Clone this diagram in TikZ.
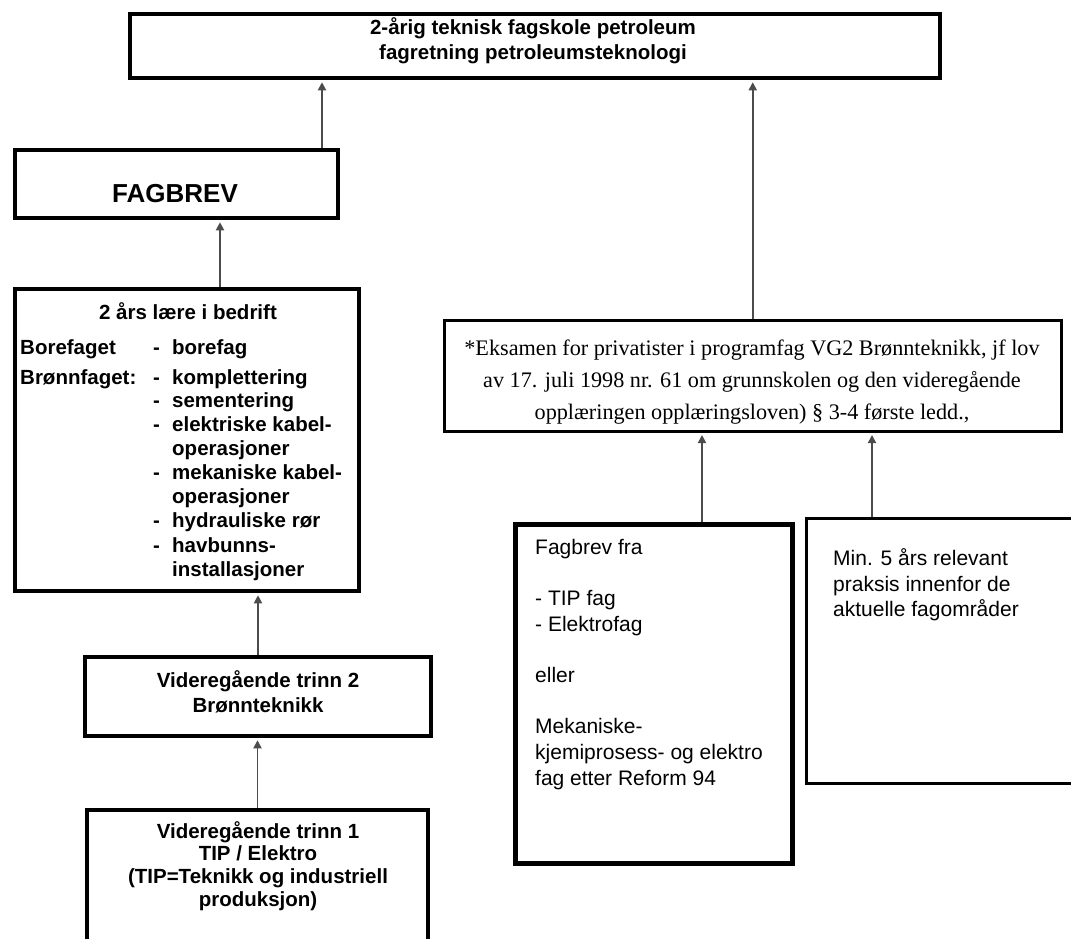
\documentclass[tikz,border=0pt]{standalone}
\usepackage{fontspec}
\setmainfont{Liberation Sans}
\newfontfamily\tnr{Liberation Serif}
\usetikzlibrary{arrows.meta,calc}
\newcommand{\dashitem}[1]{\makebox[19pt][l]{-}#1}
\begin{document}
\begin{tikzpicture}[x=1pt,y=-1pt,
  box/.style={draw=black,line width=4.5pt,inner sep=0pt},
  thinbox/.style={draw=black,line width=3pt,inner sep=0pt},
  arr/.style={draw=black!70,line width=1.8pt,shorten >=2pt,-{Triangle[length=8pt,width=8pt]}},
  bt/.style={font=\fontsize{20.5}{25}\selectfont\bfseries,inner sep=0pt},
  rt/.style={font=\fontsize{21}{25}\selectfont,inner sep=0pt},
  st/.style={font=\fontsize{22.2}{32}\selectfont\tnr,inner sep=0pt},
]
\useasboundingbox (0,0) rectangle (1071,938);
\clip (0,0) rectangle (1071,938);

% boxes
\node[box,minimum width=810pt,minimum height=64pt] (top) at (535,46) {};
\node[box,minimum width=323pt,minimum height=68pt] (fag) at (176.5,184) {};
\node[box,minimum width=344pt,minimum height=302pt] (laere) at (187,440) {};
\node[box,minimum width=346pt,minimum height=79pt] (vg2) at (258,696.5) {};
\node[box,minimum width=341pt,minimum height=170pt] (vg1) at (257.5,895) {};
\node[thinbox,minimum width=616.5pt,minimum height=111pt] (eks) at (752.75,376) {};
\node[box,line width=5pt,minimum width=277pt,minimum height=339pt] (fb) at (654,694) {};
\node[thinbox,minimum width=293.5pt,minimum height=265pt] (min5) at (953.25,651) {};

% connectors
\coordinate (a1) at (322,0);
\coordinate (a2) at (220,0);
\coordinate (a3) at (702,0);
\coordinate (a4) at (872,0);
\draw[arr] (fag.north -| a1) -- (top.south -| a1);
\draw[arr] (laere.north -| a2) -- (fag.south -| a2);
\draw[arr] (vg2.north) -- (vg2.north |- laere.south);
\draw[arr] (vg1.north) -- (vg1.north |- vg2.south);
\draw[arr] (eks.north) -- (eks.north |- top.south);
\draw[arr] (fb.north -| a3) -- (eks.south -| a3);
\draw[arr] (min5.north -| a4) -- (eks.south -| a4);

% texts
\node[bt,align=center] (ttop) at (533,41) {2-årig teknisk fagskole petroleum\\fagretning petroleumsteknologi};
\node[bt,font=\fontsize{26}{30}\selectfont\bfseries,anchor=base] (tfag) at (175,202) {FAGBREV};

\node[bt,anchor=base] (tl0) at (188,319) {2 års lære i bedrift};
\node[bt,anchor=base west] (tbore) at (20,354) {Borefaget};
\node[bt,anchor=base west] (tbore2) at (153,354) {\dashitem{borefag}};
\node[bt,anchor=base west] (tbronn) at (20,384) {Brønnfaget:};
\foreach \yy/\tt [count=\i] in {384/{\dashitem{komplettering}},407/{\dashitem{sementering}},431/{\dashitem{elektriske kabel-}},455/{\hspace*{19pt}operasjoner},479/{\dashitem{mekaniske kabel-}},503/{\hspace*{19pt}operasjoner},527/{\dashitem{hydrauliske rør}},552/{\dashitem{havbunns-}},576/{\hspace*{19pt}installasjoner}}
  \node[bt,anchor=base west] (tl\i) at (153,\yy) {\tt};

\node[bt,align=center] (tvg2) at (258,691.5) {Videregående trinn 2\\Brønnteknikk};
\node[bt,align=center,font=\fontsize{20.5}{22.7}\selectfont\bfseries,anchor=north] (tvg1) at (258,821) {Videregående trinn 1\\TIP / Elektro\\(TIP=Teknikk og industriell\\produksjon)};

\node[st,align=center] (teks) at (752,382) {*Eksamen for privatister i programfag VG2 Brønnteknikk, jf lov\\av 17. juli 1998 nr. 61 om grunnskolen og den videregående\\opplæringen opplæringsloven) § 3-4 første ledd.,};

\foreach \yy/\tt [count=\i] in {554/{Fagbrev fra},605/{- TIP fag},631/{- Elektrofag},682/{eller},733/{Mekaniske-},759/{kjemiprosess- og elektro},785/{fag etter Reform 94}}
  \node[rt,anchor=base west] (tf\i) at (535,\yy) {\tt};

\foreach \yy/\tt [count=\i] in {565/{Min. 5 års relevant},591/{praksis innenfor de},616/{aktuelle fagområder}}
  \node[rt,anchor=base west] (tm\i) at (833,\yy) {\tt};
\end{tikzpicture}
\end{document}
